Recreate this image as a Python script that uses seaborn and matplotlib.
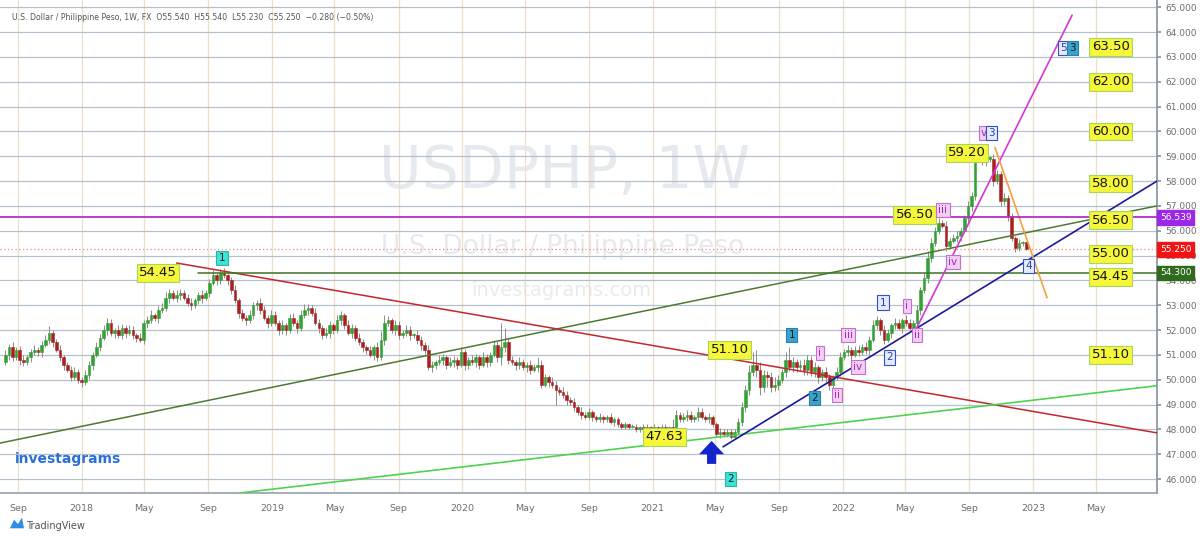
import numpy as np
import pandas as pd
import seaborn as sns
import matplotlib
matplotlib.use("Agg")
import matplotlib.pyplot as plt
import matplotlib.dates as mdates
from matplotlib.ticker import FormatStrFormatter
from matplotlib.patches import Polygon

# weekly USDPHP closes, Aug 2017 -> Dec 2022
first_open = 50.7
closes = [
    51.0, 51.3, 50.9, 51.2, 50.8, 50.7, 50.9, 51.1, 51.2, 51.1,
    51.4, 51.6, 51.9, 51.5, 51.2, 50.9, 50.6, 50.4, 50.1, 50.3,
    50.0, 49.9, 50.2, 50.6, 51.0, 51.3, 51.7, 52.0, 52.3, 51.9,
    52.0, 51.8, 52.1, 51.9, 52.0, 51.8, 51.7, 51.6, 52.3, 52.4,
    52.6, 52.5, 52.8, 52.9, 53.3, 53.5, 53.3, 53.4, 53.5, 53.3,
    53.1, 53.0, 53.2, 53.4, 53.3, 53.5, 53.9, 54.2, 54.0, 54.3,
    54.2, 54.0, 53.6, 53.2, 52.7, 52.5, 52.4, 52.6, 53.0, 53.1,
    52.8, 52.5, 52.3, 52.6, 52.3, 52.0, 52.2, 52.0, 52.5, 52.3,
    52.1, 52.6, 52.8, 52.9, 52.7, 52.3, 52.1, 51.8, 51.9, 52.2,
    52.0, 52.4, 52.6, 52.2, 51.9, 52.1, 51.7, 51.5, 51.3, 51.2,
    51.0, 51.3, 50.9, 51.6, 52.3, 52.4, 52.0, 52.2, 51.8, 51.9,
    52.0, 51.8, 51.8, 51.6, 51.4, 51.2, 50.5, 50.6, 50.7, 50.8,
    50.9, 50.6, 50.7, 50.8, 50.6, 51.1, 50.6, 50.8, 50.7, 50.9,
    50.6, 50.9, 50.7, 51.0, 51.4, 50.9, 51.3, 51.5, 50.8, 50.7,
    50.6, 50.7, 50.5, 50.6, 50.4, 50.5, 50.6, 49.8, 50.1, 49.9,
    49.8, 49.6, 49.5, 49.4, 49.2, 49.1, 48.9, 48.7, 48.6, 48.5,
    48.7, 48.5, 48.4, 48.5, 48.4, 48.5, 48.3, 48.4, 48.2, 48.1,
    48.2, 48.1, 48.1, 48.0, 48.1, 48.0, 48.1, 48.0, 48.1, 48.0,
    48.1, 48.0, 48.1, 48.0, 48.6, 48.4, 48.5, 48.6, 48.4, 48.5,
    48.7, 48.5, 48.4, 48.5, 48.2, 47.8, 47.9, 47.8, 47.9, 47.7,
    47.9, 48.3, 48.9, 49.6, 50.3, 50.6, 50.4, 49.7, 50.2, 50.1,
    49.7, 49.8, 50.0, 50.3, 50.8, 50.5, 50.7, 50.5, 50.6, 50.4,
    50.8, 50.3, 50.5, 50.1, 50.3, 50.1, 49.8, 50.1, 50.3, 50.9,
    51.1, 51.2, 51.0, 51.2, 51.1, 51.3, 51.2, 51.6, 52.2, 52.4,
    52.0, 51.6, 51.9, 52.2, 52.3, 52.1, 52.4, 52.3, 52.1, 52.3,
    52.8, 53.6, 54.1, 54.9, 55.5, 56.0, 56.3, 56.2, 55.4, 55.6,
    55.7, 55.8, 56.0, 56.5, 57.0, 57.4, 58.9, 59.0, 58.8, 58.9,
    58.9, 58.0, 58.3, 57.2, 57.3, 56.6, 55.7, 55.3, 55.5, 55.54, 55.25,
]
wick_up = [
    .2, .15, .2, .1, .15, .2, .1, .15, .2, .1,
    .15, .2, .25, .1, .15, .2, .1, .1, .15, .2,
    .15, .1, .2, .15, .1, .2, .15, .2, .2, .15,
    .1, .2, .15, .1, .2, .15, .1, .2, .1, .15,
    .2, .1, .15, .2, .25, .15, .1, .2, .15, .1,
    .15, .2, .1, .15, .2, .1, .15, .2, .1, .15,
    .2, .1, .15, .2, .1, .15, .1, .2, .15, .1,
    .2, .15, .1, .2, .15, .1, .2, .1, .15, .2,
    .1, .2, .25, .15, .1, .2, .15, .1, .2, .15,
    .1, .2, .15, .1, .2, .15, .1, .2, .15, .1,
    .15, .1, .2, .35, .3, .15, .1, .2, .15, .1,
    .2, .15, .1, .2, .15, .1, .2, .15, .1, .2,
    .15, .1, .2, .15, .1, .2, .15, .1, .2, .15,
    .1, .2, .15, .1, .2, .15, 1.0, .6, .2, .15,
    .1, .2, .15, .1, .2, .15, .3, .2, .15, .1,
    .2, .15, .1, .2, .15, .1, .15, .1, .2, .1,
    .15, .1, .1, .15, .1, .1, .15, .1, .1, .1,
    .1, .05, .1, .1, .05, .1, .1, .05, .1, .05,
    .1, .1, .05, .3, .2, .1, .15, .2, .15, .1,
    .2, .15, .1, .15, .1, .1, .15, .1, .1, .1,
    .1, .15, .2, .2, .3, .5, .6, .3, .2, .15,
    .2, .3, .2, .15, .3, .5, .2, .15, .2, .25,
    .2, .15, .2, .1, .15, .2, .15, .1, .2, .2,
    .15, .2, .1, .15, .2, .15, .2, .15, .2, .15,
    .1, .2, .15, .1, .2, .15, .1, .2, .15, .1,
    .2, .15, .2, .3, .2, .15, .2, .15, .2, .1,
    .15, .2, .1, .15, .2, .15, .15, .2, .15, .1,
    .1, .2, .15, .1, .2, .15, .1, .1, .15, .05, .0,
]
wick_dn = [
    .1, .2, .15, .1, .2, .15, .1, .2, .1, .15,
    .2, .1, .15, .2, .1, .15, .2, .1, .15, .1,
    .15, .2, .1, .15, .2, .1, .15, .1, .2, .15,
    .2, .1, .15, .2, .1, .15, .2, .1, .15, .2,
    .1, .15, .2, .1, .15, .2, .1, .15, .2, .1,
    .15, .2, .1, .15, .2, .1, .15, .1, .2, .15,
    .1, .2, .15, .1, .2, .15, .2, .1, .15, .2,
    .15, .1, .2, .15, .1, .2, .15, .2, .1, .15,
    .2, .15, .1, .2, .15, .1, .2, .15, .1, .2,
    .15, .1, .2, .15, .1, .2, .15, .1, .2, .15,
    .1, .2, .15, .1, .2, .15, .1, .2, .15, .1,
    .15, .2, .1, .15, .2, .15, .1, .2, .15, .1,
    .2, .15, .1, .2, .15, .1, .2, .15, .1, .2,
    .15, .1, .2, .15, .1, .2, .3, .2, .15, .1,
    .2, .15, .1, .2, .15, .1, .2, .15, .1, .2,
    .15, .6, .1, .15, .2, .1, .15, .1, .2, .1,
    .1, .15, .1, .1, .15, .1, .1, .15, .1, .1,
    .1, .1, .05, .1, .1, .35, .1, .05, .1, .1,
    .05, .1, .1, .1, .15, .1, .1, .15, .1, .1,
    .15, .1, .1, .15, .1, .1, .15, .1, .1, .1,
    .1, .1, .15, .2, .2, .15, .3, .3, .2, .4,
    .2, .15, .2, .15, .2, .15, .2, .2, .15, .2,
    .2, .15, .2, .25, .15, .2, .2, .15, .1, .15,
    .1, .15, .2, .1, .15, .1, .15, .2, .1, .15,
    .2, .15, .1, .2, .15, .1, .2, .15, .1, .2,
    .15, .2, .1, .2, .15, .1, .15, .1, .2, .15,
    .1, .15, .2, .1, .15, .2, .15, .1, .15, .2,
    .15, .2, .1, .2, .15, .2, .1, .15, .1, .1, .02,
]

# drawn trend lines: start date / price -> end date / price
line_names = ["support", "resistance", "base", "neckline", "channel", "wave3", "wave4"]
line_start = ["2017-07-28", "2018-07-02", "2018-10-31", "2018-08-13", "2021-05-16", "2022-05-23", "2022-10-20"]
line_p0 = [47.45, 54.70, 45.44, 54.30, 47.30, 52.10, 59.35]
line_end = ["2023-08-27", "2023-08-27", "2023-08-27", "2023-08-27", "2023-08-27", "2023-03-17", "2023-01-28"]
line_p1 = [57.00, 47.86, 49.76, 54.30, 58.00, 64.68, 53.30]

# target levels (right column) and swing labels
level_text = ["63.50", "62.00", "60.00", "58.00", "56.50", "55.00", "54.45", "51.10"]
level_y = [63.40, 62.00, 60.00, 57.90, 56.43, 55.07, 54.14, 51.00]
swing_text = ["54.45", "51.10", "47.63", "56.50", "59.20"]
swing_date = ["2018-05-27", "2021-05-29", "2021-01-24", "2022-05-19", "2022-08-27"]
swing_y = [54.30, 51.20, 47.70, 56.64, 59.13]

# elliott wave tags: text, date, price, kind
wave_text = ["1", "2", "1", "2", "5", "3", "1", "2", "4", "v", "3",
             "i", "ii", "iii", "iv", "i", "ii", "iii", "iv"]
wave_date = ["2018-09-27", "2021-05-31", "2021-09-25", "2021-11-08", "2023-03-01", "2023-03-18",
             "2022-03-19", "2022-04-01", "2022-12-24", "2022-09-29", "2022-10-14",
             "2021-11-18", "2021-12-21", "2022-01-11", "2022-01-30",
             "2022-05-04", "2022-05-23", "2022-07-12", "2022-07-31"]
wave_y = [54.90, 46.00, 51.80, 49.27, 63.36, 63.36, 53.10, 50.90, 54.58, 59.94, 59.94,
          51.08, 49.39, 51.80, 50.52, 52.97, 51.80, 56.84, 54.74]
wave_kind = ["cyan", "cyan", "teal", "teal", "blue", "teal", "blue", "blue", "blue", "pink", "blue",
             "pink", "pink", "pink", "pink", "pink", "pink", "pink", "pink"]

tick_dates = ["2017-09-01", "2018-01-01", "2018-05-01", "2018-09-01", "2019-01-01", "2019-05-01",
              "2019-09-01", "2020-01-01", "2020-05-01", "2020-09-01", "2021-01-01", "2021-05-01",
              "2021-09-01", "2022-01-01", "2022-05-01", "2022-09-01", "2023-01-01", "2023-05-01"]
tick_labels = ["Sep", "2018", "May", "Sep", "2019", "May", "Sep", "2020", "May", "Sep",
               "2021", "May", "Sep", "2022", "May", "Sep", "2023", "May"]


def num(s):
    return mdates.date2num(pd.Timestamp(s))


sns.set_theme(style="white")
plt.rcParams["font.family"] = ["DejaVu Sans"]

weeks = pd.date_range("2017-08-07", periods=len(closes), freq="W-MON")
df = pd.DataFrame({"x": mdates.date2num(weeks), "open": [first_open] + closes[:-1], "close": closes})
df["high"] = df[["open", "close"]].max(axis=1) + np.array(wick_up)
df["low"] = df[["open", "close"]].min(axis=1) - np.array(wick_dn)
up = df["close"] >= df["open"]

fig = plt.figure(figsize=(12, 5.38), dpi=100)
ax = fig.add_axes([0, 1 - 493 / 538, 1157 / 1200, 493 / 538])
ax.set_xlim(num("2017-07-28"), num("2023-08-27"))
ax.set_ylim(45.44, 65.29)

# grid
ax.set_yticks(range(46, 66))
ax.set_xticks([num(d) for d in tick_dates])
ax.set_xticklabels(tick_labels)
ax.grid(axis="y", color="#b4c0cc", lw=0.9)
ax.grid(axis="x", color="#eedfc8", lw=0.9)
ax.set_axisbelow(True)
ax.yaxis.tick_right()
ax.yaxis.set_major_formatter(FormatStrFormatter("%.3f"))
ax.tick_params(axis="y", length=3, color="#8a96a2", labelsize=6.5, labelcolor="#6e6e6e", pad=3)
ax.tick_params(axis="x", length=3, color="#c8b89c", labelsize=6.8, labelcolor="#6e6e6e", pad=5)
for side in ["left", "top"]:
    ax.spines[side].set_visible(False)
ax.spines["right"].set_color("#8a96a2")
ax.spines["bottom"].set_color("#9aa4ae")

# watermark
ax.text(num("2020-07-15"), 58.4, "USDPHP, 1W", ha="center", va="center", fontsize=42,
        color="#e6e9ee", zorder=0.5)
ax.text(num("2020-07-12"), 55.35, "U.S. Dollar / Philippine Peso", ha="center", va="center",
        fontsize=19, color="#e6e9ee", zorder=0.5)
ax.text(num("2020-07-10"), 53.6, "investagrams.com", ha="center", va="center", fontsize=14,
        color="#e9ebef", zorder=0.5)

# candles
ax.vlines(df["x"], df["low"], df["high"], color="#8c8c8c", lw=0.7, zorder=2)
body = (df["close"] - df["open"]).abs().clip(lower=0.05)
bottom = df[["open", "close"]].min(axis=1)
ax.bar(df["x"][up], body[up], bottom=bottom[up], width=5.0, color="#33a133",
       edgecolor="#33a133", lw=0.4, zorder=3)
ax.bar(df["x"][~up], body[~up], bottom=bottom[~up], width=5.0, color="#a82020",
       edgecolor="#a82020", lw=0.4, zorder=3)

# trend lines
line_style = {
    "support": ("#4d7a30", 1.1), "resistance": ("#c4262c", 1.1), "base": ("#4ed34e", 1.2),
    "neckline": ("#3d7424", 1.1), "channel": ("#1a1a9a", 1.2), "wave3": ("#d636d6", 1.2),
    "wave4": ("#f2a23c", 1.2),
}
for name, d0, p0, d1, p1 in zip(line_names, line_start, line_p0, line_end, line_p1):
    col, lw = line_style[name]
    sns.lineplot(x=[num(d0), num(d1)], y=[p0, p1], ax=ax, color=col, lw=lw, zorder=4)
ax.axhline(56.539, color="#b52fc4", lw=1.3, zorder=4)
ax.axhline(55.25, color="#f08a8a", lw=0.9, ls=(0, (1, 2)), zorder=4)

# right price boxes
for price, fc in [(56.539, "#9b28e6"), (55.25, "#f01414"), (54.30, "#2f6a1f")]:
    ax.text(1.0025, price, f"{price:.3f}", transform=ax.get_yaxis_transform(), ha="left",
            va="center", fontsize=6.5, color="white", clip_on=False, zorder=10,
            bbox=dict(boxstyle="square,pad=0.3", fc=fc, ec=fc))

# yellow labels
ybox = dict(boxstyle="square,pad=0.18", fc="#f6f63a", ec="#a6d65e", lw=0.8)
for t, y in zip(level_text, level_y):
    ax.text(num("2023-05-30"), y, t, ha="center", va="center", fontsize=9.5, color="#151515",
            bbox=ybox, zorder=8)
for t, d, y in zip(swing_text, swing_date, swing_y):
    ax.text(num(d), y, t, ha="center", va="center", fontsize=9.5, color="#151515",
            bbox=ybox, zorder=8)

# wave tags
tag_style = {
    "cyan": ("#3fe3d2", "#2bb3a6", "#0d2030"),
    "teal": ("#3aa3cc", "#2c80a8", "#0b1a2e"),
    "blue": ("#e4ebff", "#3350c8", "#2a40b0"),
    "pink": ("#f4cdf4", "#c070d2", "#9433a8"),
}
for t, d, y, k in zip(wave_text, wave_date, wave_y, wave_kind):
    fc, ec, tc = tag_style[k]
    ax.text(num(d), y, t, ha="center", va="center", fontsize=7.5, color=tc, zorder=9,
            bbox=dict(boxstyle="square,pad=0.22", fc=fc, ec=ec, lw=0.8))

# wave-2 arrow
ax.annotate("", xy=(num("2021-04-24"), 47.65), xytext=(num("2021-04-24"), 46.5),
            arrowprops=dict(arrowstyle="simple,head_width=1.5,head_length=0.8,tail_width=0.55",
                            color="#1424cc", lw=0), zorder=9)

# header and logos
fig.text(12 / 1200, 1 - 17 / 538,
         "U.S. Dollar / Philippine Peso, 1W, FX  O55.540  H55.540  L55.230  C55.250  \u22120.280 (\u22120.50%)",
         fontsize=5.6, color="#555555", va="center")
ax.text(0.013, 0.069, "investagrams", transform=ax.transAxes, fontsize=10, fontweight="bold",
        color="#2a6fd6", va="center")
fig.patches.append(Polygon([[10 / 1200, 0.018], [14 / 1200, 0.034], [18 / 1200, 0.026],
                            [22 / 1200, 0.038], [24 / 1200, 0.018]],
                           closed=True, fc="#2d8ee6", ec="none", transform=fig.transFigure))
fig.text(26 / 1200, 1 - 526 / 538, "TradingView", fontsize=7, color="#555555", va="center")

fig.savefig("out.png", dpi=100)
